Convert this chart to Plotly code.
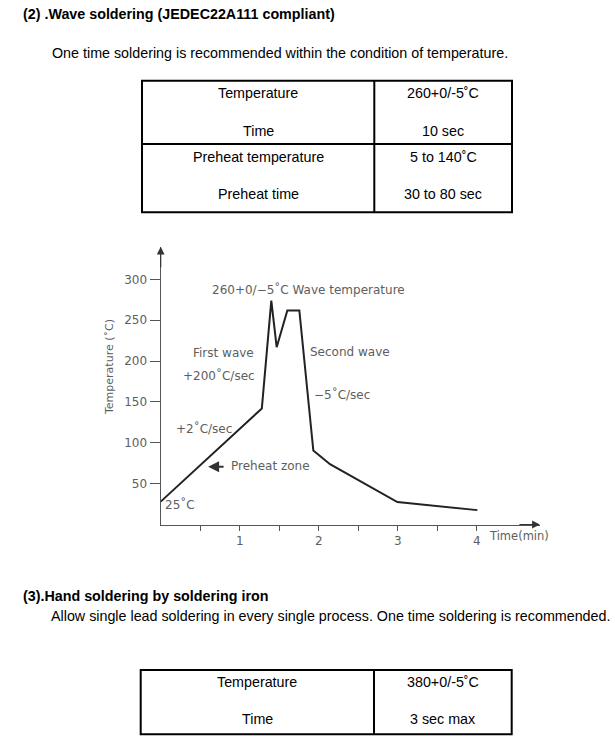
import plotly.graph_objects as go

# ---------------- data ----------------
time_min = [0, 1.28, 1.40, 1.468, 1.603, 1.755, 1.932, 2.143, 2.996, 4.008]
temp_c = [28, 142, 274, 217, 262, 262, 90.5, 73.8, 27.5, 17.6]

x_tick_vals = [0.5, 1, 1.5, 2, 2.5, 3, 3.5, 4]
x_tick_text = ["", "1", "", "2", "", "3", "", "4"]
y_tick_vals = [50, 100, 150, 200, 250, 300]
y_tick_text = ["50", "100", "150", "200", "250", "300"]

table1_left = ["Temperature", "Time", "Preheat temperature", "Preheat time"]
table1_right = ["260+0/-5˚C", "10 sec", "5 to 140˚C", "30 to 80 sec"]
table2_left = ["Temperature", "Time"]
table2_right = ["380+0/-5˚C", "3 sec max"]

W, H = 615, 748


def px(x):
    return x / W


def py(y):
    return 1 - y / H


GREY = "#5e5e5e"
CFONT = "DejaVu Sans"
PFONT = "Liberation Sans, Arial, sans-serif"
PSIZE = 14.3

fig = go.Figure()
fig.add_trace(go.Scatter(
    x=time_min, y=temp_c, mode="lines",
    line=dict(color="#222222", width=2),
    hoverinfo="skip", showlegend=False, cliponaxis=False,
))

fig.update_layout(
    width=W, height=H,
    margin=dict(l=0, r=0, t=0, b=0),
    paper_bgcolor="white", plot_bgcolor="white",
    showlegend=False,
    xaxis=dict(
        domain=[px(160.7), px(539.9)], range=[0, 4.8],
        showgrid=False, zeroline=False,
        showline=True, linecolor="#555", linewidth=1.2,
        tickmode="array", tickvals=x_tick_vals, ticktext=x_tick_text,
        ticks="outside", ticklen=5, tickcolor="#555", tickwidth=1,
        tickfont=dict(family=CFONT, size=12, color=GREY),
    ),
    yaxis=dict(
        domain=[py(524.5), py(246.7)], range=[0, 340],
        showgrid=False, zeroline=False,
        showline=True, linecolor="#555", linewidth=1.2,
        tickmode="array", tickvals=y_tick_vals, ticktext=y_tick_text,
        ticks="outside", ticklen=10, tickcolor="#555", tickwidth=1,
        tickfont=dict(family=CFONT, size=12, color=GREY),
    ),
)

ann = []
# axis arrows
ann.append(dict(x=4.8, y=0, xref="x", yref="y", ax=-22, ay=0, showarrow=True,
                arrowhead=2, arrowsize=1.3, arrowwidth=1.2, arrowcolor="#333", text=""))
ann.append(dict(x=0, y=340, xref="x", yref="y", ax=0, ay=22, showarrow=True,
                arrowhead=2, arrowsize=1.3, arrowwidth=1.2, arrowcolor="#333", text=""))
# preheat arrow
ann.append(dict(x=0.60, y=70.8, xref="x", yref="y", ax=0.815, ay=70.8, axref="x", ayref="y",
                showarrow=True, arrowhead=2, arrowsize=1.1, arrowwidth=2, arrowcolor="#333", text=""))

chart_labels = [
    ("260+0/−5˚C Wave temperature", 1.877, 287.4),
    ("First wave", 0.789, 210.2),
    ("+200˚C/sec", 0.732, 182.0),
    ("Second wave", 2.390, 211.4),
    ("−5˚C/sec", 2.289, 158.7),
    ("+2˚C/sec", 0.548, 117.0),
    ("Preheat zone", 1.390, 72.1),
    ("25˚C", 0.244, 23.9),
]
for t, x, y in chart_labels:
    ann.append(dict(text=t, x=x, y=y, xref="x", yref="y", showarrow=False,
                    xanchor="center", yanchor="middle",
                    font=dict(family=CFONT, size=12, color=GREY)))

ann.append(dict(text="Time(min)", x=px(519), y=py(535.7), xref="paper", yref="paper",
                showarrow=False, xanchor="center", yanchor="middle",
                font=dict(family=CFONT, size=11.5, color=GREY)))
ann.append(dict(text="Temperature (˚C)", x=px(109.3), y=py(366.7), xref="paper", yref="paper",
                showarrow=False, textangle=-90, xanchor="center", yanchor="middle",
                font=dict(family=CFONT, size=11, color=GREY)))

# page text
page_text = [
    ("<b>(2) .Wave soldering (JEDEC22A111 compliant)</b>", 20.7, 14.3),
    ("One time soldering is recommended within the condition of temperature.", 50, 52.7),
    ("<b>(3).Hand soldering by soldering iron</b>", 20.7, 596),
    ("Allow single lead soldering in every single process. One time soldering is recommended.", 49.3, 616),
]
for t, x, y in page_text:
    ann.append(dict(text=t, x=px(x), y=py(y), xref="paper", yref="paper", showarrow=False,
                    xanchor="left", yanchor="middle",
                    font=dict(family=PFONT, size=PSIZE, color="black")))

# tables
def add_table(xs, ys, line_ys, left, right):
    shapes = []
    lw = 2
    shapes.append(dict(type="rect", xref="paper", yref="paper",
                       x0=px(xs[0]), x1=px(xs[2]), y0=py(ys[0]), y1=py(ys[-1]),
                       line=dict(color="black", width=lw)))
    shapes.append(dict(type="line", xref="paper", yref="paper",
                       x0=px(xs[1]), x1=px(xs[1]), y0=py(ys[0]), y1=py(ys[-1]),
                       line=dict(color="black", width=lw)))
    for yy in ys[1:-1]:
        shapes.append(dict(type="line", xref="paper", yref="paper",
                           x0=px(xs[0]), x1=px(xs[2]), y0=py(yy), y1=py(yy),
                           line=dict(color="black", width=lw)))
    cl = (xs[0] + xs[1]) / 2
    cr = (xs[1] + xs[2]) / 2
    for yl, tl, tr in zip(line_ys, left, right):
        for cx, t in ((cl, tl), (cr, tr)):
            ann.append(dict(text=t, x=px(cx), y=py(yl), xref="paper", yref="paper",
                            showarrow=False, xanchor="center", yanchor="middle",
                            font=dict(family=PFONT, size=PSIZE, color="black")))
    return shapes

shapes = []
shapes += add_table([142, 374.3, 512], [80.7, 144, 212.3], [92.7, 131, 157.3, 194],
                    table1_left, table1_right)
shapes += add_table([140.7, 374, 511.7], [670, 734.3], [681.7, 719.3],
                    table2_left, table2_right)

fig.update_layout(annotations=ann, shapes=shapes)
fig.write_html("out.html",
               config={"displayModeBar": False, "staticPlot": True},
               post_script="document.body.style.margin='0';document.body.style.overflow='hidden';")
